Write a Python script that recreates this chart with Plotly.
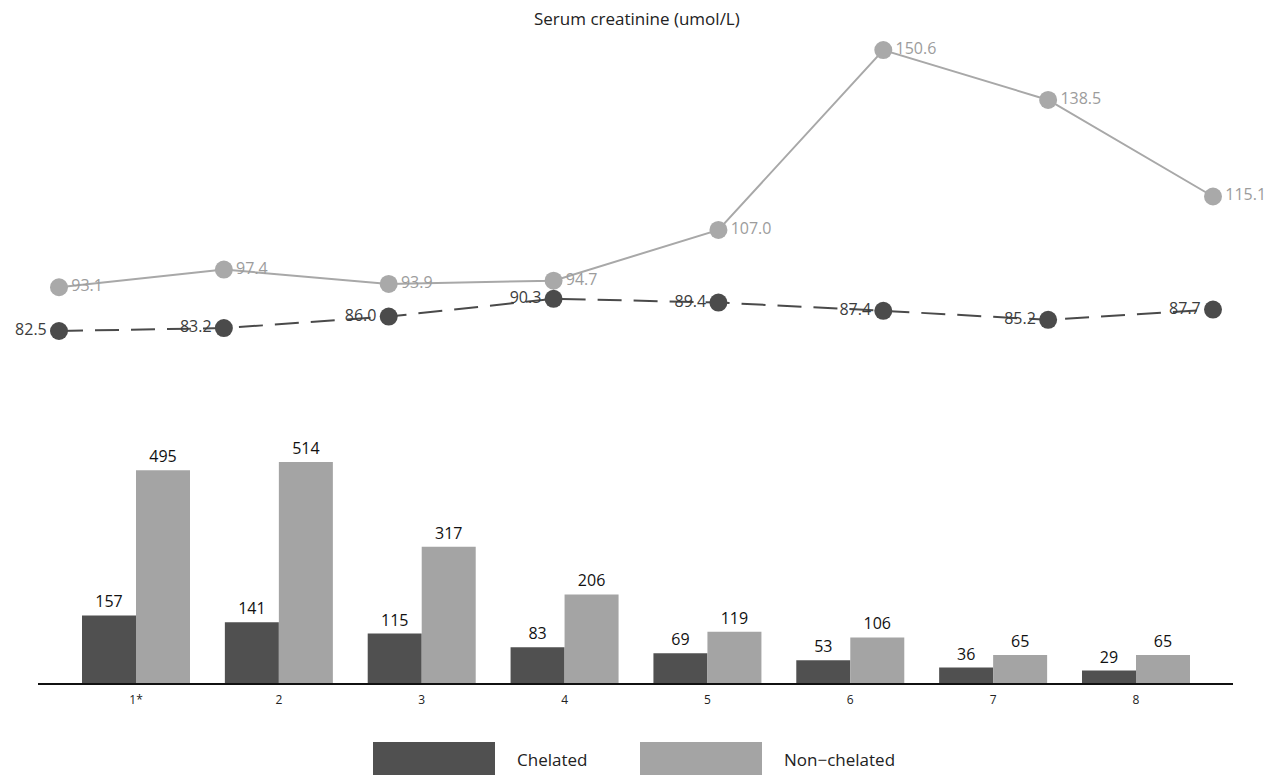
import plotly.graph_objects as go

# ---- data ----
groups = ["1*", "2", "3", "4", "5", "6", "7", "8"]
creat_chelated = [82.5, 83.2, 86.0, 90.3, 89.4, 87.4, 85.2, 87.7]
creat_nonchelated = [93.1, 97.4, 93.9, 94.7, 107.0, 150.6, 138.5, 115.1]
count_chelated = [157, 141, 115, 83, 69, 53, 36, 29]
count_nonchelated = [495, 514, 317, 206, 119, 106, 65, 65]
series_names = ["Chelated", "Non\u2212chelated"]
title_text = "Serum creatinine (umol/L)"

W, H = 1280, 780
DARK = "#505050"
LIGHT = "#a4a4a4"
FONT = "Open Sans"

idx = list(range(len(groups)))

fig = go.Figure()

# ---- line chart (top) ----
fig.add_trace(go.Scatter(
    x=idx, y=creat_nonchelated, mode="lines+markers+text",
    text=[f"{v:.1f}" for v in creat_nonchelated], textposition="middle right",
    textfont=dict(family=FONT, size=16, color="#9c9c9c"),
    line=dict(color="#a8a8a8", width=2),
    marker=dict(size=18, color="#a9a9a9"),
    xaxis="x2", yaxis="y2", showlegend=False, cliponaxis=False,
))
fig.add_trace(go.Scatter(
    x=idx, y=creat_chelated, mode="lines+markers+text",
    text=[f"{v:.1f}" for v in creat_chelated], textposition="middle left",
    textfont=dict(family=FONT, size=16, color="#3c3c3c"),
    line=dict(color="#4a4a4a", width=2, dash="24px,12px"),
    marker=dict(size=18, color="#4b4b4b"),
    xaxis="x2", yaxis="y2", showlegend=False, cliponaxis=False,
))

# ---- bar chart (bottom) ----
fig.add_trace(go.Bar(
    x=idx, y=count_chelated, name=series_names[0],
    marker=dict(color=DARK, line=dict(width=0)),
    text=[str(v) for v in count_chelated], textposition="outside",
    textfont=dict(family=FONT, size=16, color="#111111"),
    showlegend=False, cliponaxis=False,
))
fig.add_trace(go.Bar(
    x=idx, y=count_nonchelated, name=series_names[1],
    marker=dict(color=LIGHT, line=dict(width=0)),
    text=[str(v) for v in count_nonchelated], textposition="outside",
    textfont=dict(family=FONT, size=16, color="#111111"),
    showlegend=False, cliponaxis=False,
))

# bar axes geometry (pixels)
x_left_px, x_right_px = 38, 1233
first_c, step_b = 136, 1000 / 7
base_px, top_px = 683, 420
scale = 0.43

# line axes geometry
lx0, lstep = 59, (1213 - 59) / 7
ly_ref_px, ly_ref_v, lscale = 331, 82.5, 4.126
ltop_px, lbot_px = 0, 390

fig.update_layout(
    width=W, height=H, autosize=False,
    margin=dict(l=0, r=0, t=0, b=0),
    paper_bgcolor="white", plot_bgcolor="rgba(0,0,0,0)",
    barmode="group", bargap=0.244, bargroupgap=0,
    font=dict(family=FONT, color="#222222"),
    xaxis=dict(
        domain=[x_left_px / W, x_right_px / W],
        range=[(x_left_px - first_c) / step_b, (x_right_px - first_c) / step_b],
        tickmode="array", tickvals=idx, ticktext=groups,
        tickfont=dict(family=FONT, size=12, color="#222222"),
        showgrid=False, zeroline=False, showline=True, linecolor="#111111", linewidth=2,
        ticks="", ticklabelstandoff=5, fixedrange=True,
    ),
    yaxis=dict(
        domain=[1 - base_px / H, 1 - top_px / H],
        range=[0, (base_px - top_px) / scale],
        visible=False, showgrid=False, zeroline=False,
    ),
    xaxis2=dict(
        domain=[0, 1], anchor="y2",
        range=[-lx0 / lstep, (W - lx0) / lstep],
        visible=False, showgrid=False, zeroline=False,
    ),
    yaxis2=dict(
        domain=[1 - lbot_px / H, 1 - ltop_px / H], anchor="x2",
        range=[ly_ref_v - (lbot_px - ly_ref_px) / lscale, ly_ref_v + (ly_ref_px - ltop_px) / lscale],
        visible=False, showgrid=False, zeroline=False,
    ),
    annotations=[
        dict(text=title_text, x=637 / W, y=1 - 18 / H, xref="paper", yref="paper",
             showarrow=False, font=dict(family=FONT, size=17, color="#222222"),
             xanchor="center", yanchor="middle"),
        dict(text=series_names[0], x=515 / W, y=1 - 759 / H, xref="paper", yref="paper",
             showarrow=False, font=dict(family=FONT, size=17, color="#222222"),
             xanchor="left", yanchor="middle"),
        dict(text=series_names[1], x=782 / W, y=1 - 759 / H, xref="paper", yref="paper",
             showarrow=False, font=dict(family=FONT, size=17, color="#222222"),
             xanchor="left", yanchor="middle"),
    ],
    shapes=[
        dict(type="rect", xref="paper", yref="paper",
             x0=373 / W, x1=495 / W, y0=1 - 775 / H, y1=1 - 742 / H,
             fillcolor=DARK, line=dict(width=0)),
        dict(type="rect", xref="paper", yref="paper",
             x0=640 / W, x1=762 / W, y0=1 - 775 / H, y1=1 - 742 / H,
             fillcolor=LIGHT, line=dict(width=0)),
    ],
)

fig.write_html(
    "out.html",
    config={"displayModeBar": False},
    post_script="document.body.style.margin='0';document.body.style.padding='0';",
)
